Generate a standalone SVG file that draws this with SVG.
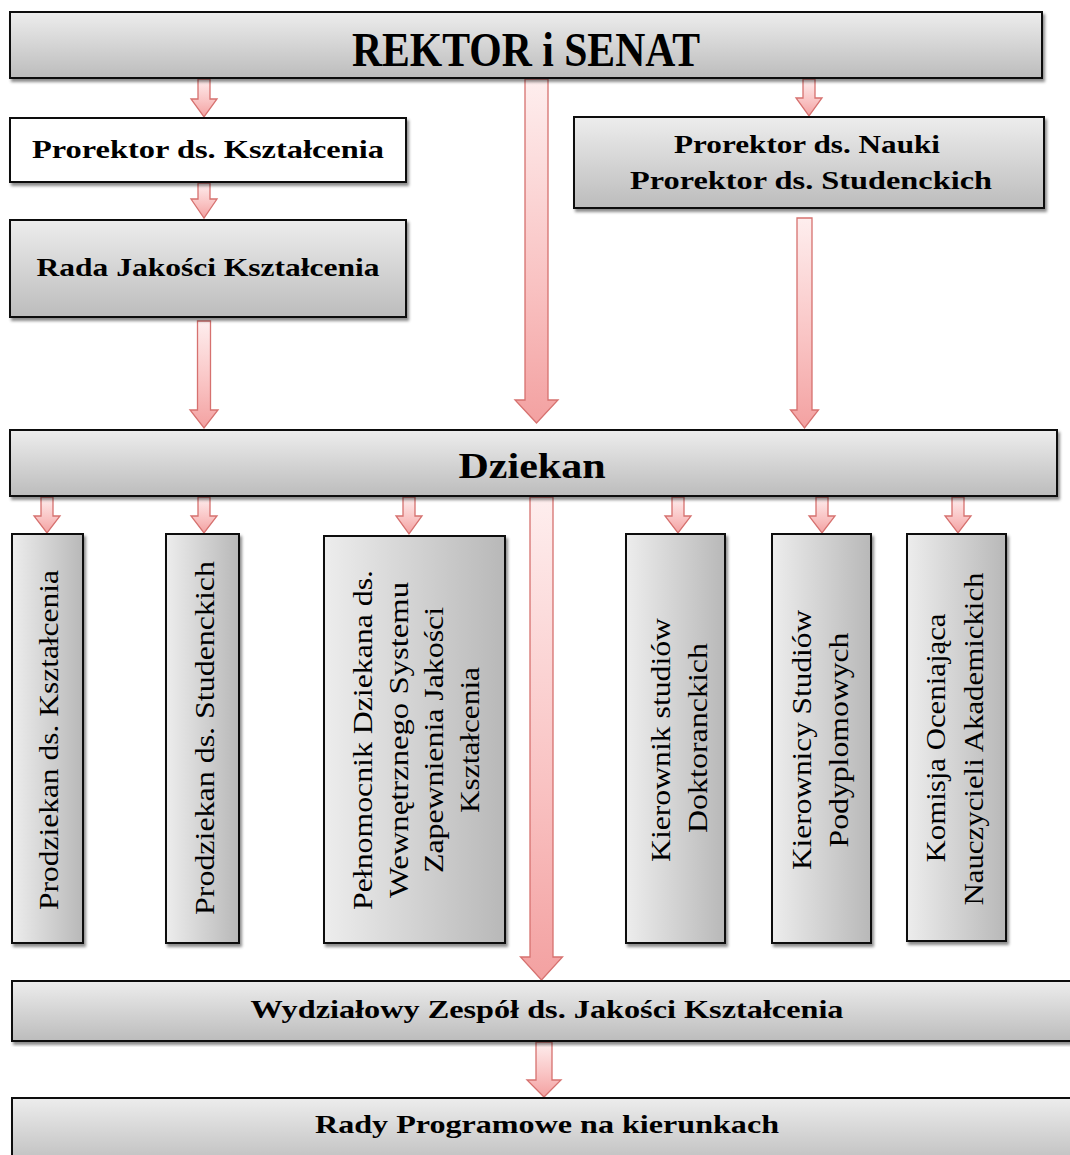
<svg xmlns="http://www.w3.org/2000/svg" width="1070" height="1155" viewBox="0 0 1070 1155">
<defs>
<linearGradient id="gH" x1="0" y1="0" x2="0" y2="1">
<stop offset="0" stop-color="#ededed"/><stop offset="1" stop-color="#bcbcbc"/>
</linearGradient>
<linearGradient id="gV" x1="0" y1="0" x2="1" y2="0">
<stop offset="0" stop-color="#ededed"/><stop offset="1" stop-color="#b8b8b8"/>
</linearGradient>
<linearGradient id="gA" x1="0" y1="0" x2="0" y2="1">
<stop offset="0" stop-color="#feeeee"/><stop offset="0.6" stop-color="#f9c2c2"/><stop offset="1" stop-color="#f3a1a1"/>
</linearGradient>
<filter id="sh" x="-5%" y="-5%" width="115%" height="115%">
<feDropShadow dx="2" dy="3" stdDeviation="1.5" flood-color="#000" flood-opacity="0.45"/>
</filter>
</defs>
<style>
.bh{fill:url(#gH);stroke:#111;stroke-width:2;filter:url(#sh)}
.bv{fill:url(#gV);stroke:#111;stroke-width:2;filter:url(#sh)}
.bw{fill:#fff;stroke:#111;stroke-width:2;filter:url(#sh)}
.ar{fill:url(#gA);stroke:#d6716f;stroke-width:1.3}
.t{font-family:"Liberation Serif","DejaVu Serif",serif;fill:#000;text-anchor:middle}
.b{font-weight:bold}
</style>
<rect width="1070" height="1155" fill="#fff"/>
<g id="connectors">
<path class="ar" d="M198 79 H210 V99 H217 L204 117 L191 99 H198 Z"/>
<path class="ar" d="M198 183 H210 V199 H217 L204 218 L191 199 H198 Z"/>
<path class="ar" d="M197.5 321 H210.5 V410 H218 L204 428 L190 410 H197.5 Z"/>
<path class="ar" d="M525 79 H548 V400 H558 L536.5 423 L515 400 H525 Z"/>
<path class="ar" d="M803 79 H815 V98 H822 L809 116 L796 98 H803 Z"/>
<path class="ar" d="M797 218 H812 V410 H818.5 L804.5 428 L790.5 410 H797 Z"/>
<path class="ar" d="M41 497 H53 V516 H60 L47 533 L34 516 H41 Z"/>
<path class="ar" d="M198 497 H210 V516 H217 L204 533 L191 516 H198 Z"/>
<path class="ar" d="M403 497 H415 V516 H422 L409 534 L396 516 H403 Z"/>
<path class="ar" d="M672 497 H684 V516 H691 L678 533 L665 516 H672 Z"/>
<path class="ar" d="M816 497 H828 V516 H835 L822 533 L809 516 H816 Z"/>
<path class="ar" d="M952 497 H964 V516 H971 L958 533 L945 516 H952 Z"/>
<path class="ar" d="M530 497 H553 V957 H562.5 L541.5 980 L520.5 957 H530 Z"/>
<path class="ar" d="M536 1042 H552 V1080 H561 L544 1097 L527 1080 H536 Z"/>
</g>
<g id="rektor">
<rect class="bh" x="10" y="12" width="1032" height="66"/>
<text class="t b" x="526" y="66" font-size="48" textLength="348" lengthAdjust="spacingAndGlyphs">REKTOR i SENAT</text>
</g>
<g id="prorektor-ksztalcenia">
<rect class="bw" x="10" y="118" width="396" height="64"/>
<text class="t b" x="208" y="158" font-size="26" textLength="352" lengthAdjust="spacingAndGlyphs">Prorektor ds. Kształcenia</text>
</g>
<g id="rada-jakosci">
<rect class="bh" x="10" y="220" width="396" height="97"/>
<text class="t b" x="208" y="276" font-size="26" textLength="343" lengthAdjust="spacingAndGlyphs">Rada Jakości Kształcenia</text>
</g>
<g id="prorektor-nauki">
<rect class="bh" x="574" y="117" width="470" height="91"/>
<text class="t b" x="807" y="153" font-size="26" textLength="266" lengthAdjust="spacingAndGlyphs">Prorektor ds. Nauki</text>
<text class="t b" x="811" y="189" font-size="26" textLength="362" lengthAdjust="spacingAndGlyphs">Prorektor ds. Studenckich</text>
</g>
<g id="dziekan">
<rect class="bh" x="10" y="430" width="1047" height="66"/>
<text class="t b" x="532" y="478" font-size="36" textLength="147" lengthAdjust="spacingAndGlyphs">Dziekan</text>
</g>
<g id="prodziekan-ksztalcenia">
<rect class="bv" x="12" y="534" width="71" height="409"/>
<text class="t" transform="translate(58,740) rotate(-90)" font-size="27" textLength="340" lengthAdjust="spacingAndGlyphs">Prodziekan ds. Kształcenia</text>
</g>
<g id="prodziekan-studenckich">
<rect class="bv" x="166" y="534" width="73" height="409"/>
<text class="t" transform="translate(214,738) rotate(-90)" font-size="27" textLength="354" lengthAdjust="spacingAndGlyphs">Prodziekan ds. Studenckich</text>
</g>
<g id="pelnomocnik">
<rect class="bv" x="324" y="536" width="181" height="407"/>
<text class="t" transform="translate(372,740) rotate(-90)" font-size="27" textLength="340" lengthAdjust="spacingAndGlyphs">Pełnomocnik Dziekana ds.</text>
<text class="t" transform="translate(408,740) rotate(-90)" font-size="27" textLength="316" lengthAdjust="spacingAndGlyphs">Wewnętrznego Systemu</text>
<text class="t" transform="translate(443,740) rotate(-90)" font-size="27" textLength="266" lengthAdjust="spacingAndGlyphs">Zapewnienia Jakości</text>
<text class="t" transform="translate(479,740) rotate(-90)" font-size="27" textLength="146" lengthAdjust="spacingAndGlyphs">Kształcenia</text>
</g>
<g id="kierownik-doktoranckich">
<rect class="bv" x="626" y="534" width="99" height="409"/>
<text class="t" transform="translate(670,740) rotate(-90)" font-size="27" textLength="244" lengthAdjust="spacingAndGlyphs">Kierownik studiów</text>
<text class="t" transform="translate(707,738) rotate(-90)" font-size="27" textLength="190" lengthAdjust="spacingAndGlyphs">Doktoranckich</text>
</g>
<g id="kierownicy-podyplomowych">
<rect class="bv" x="772" y="534" width="99" height="409"/>
<text class="t" transform="translate(811,740) rotate(-90)" font-size="27" textLength="260" lengthAdjust="spacingAndGlyphs">Kierownicy Studiów</text>
<text class="t" transform="translate(848,740) rotate(-90)" font-size="27" textLength="215" lengthAdjust="spacingAndGlyphs">Podyplomowych</text>
</g>
<g id="komisja">
<rect class="bv" x="907" y="534" width="99" height="407"/>
<text class="t" transform="translate(945,738) rotate(-90)" font-size="27" textLength="249" lengthAdjust="spacingAndGlyphs">Komisja Oceniająca</text>
<text class="t" transform="translate(983,739) rotate(-90)" font-size="27" textLength="333" lengthAdjust="spacingAndGlyphs">Nauczycieli Akademickich</text>
</g>
<g id="wydzialowy-zespol">
<rect class="bh" x="12" y="981" width="1070" height="60"/>
<text class="t b" x="547" y="1018" font-size="25" textLength="593" lengthAdjust="spacingAndGlyphs">Wydziałowy Zespół ds. Jakości Kształcenia</text>
</g>
<g id="rady-programowe">
<rect class="bh" x="12" y="1098" width="1070" height="70"/>
<text class="t b" x="547" y="1133" font-size="25" textLength="464" lengthAdjust="spacingAndGlyphs">Rady Programowe na kierunkach</text>
</g>
</svg>
